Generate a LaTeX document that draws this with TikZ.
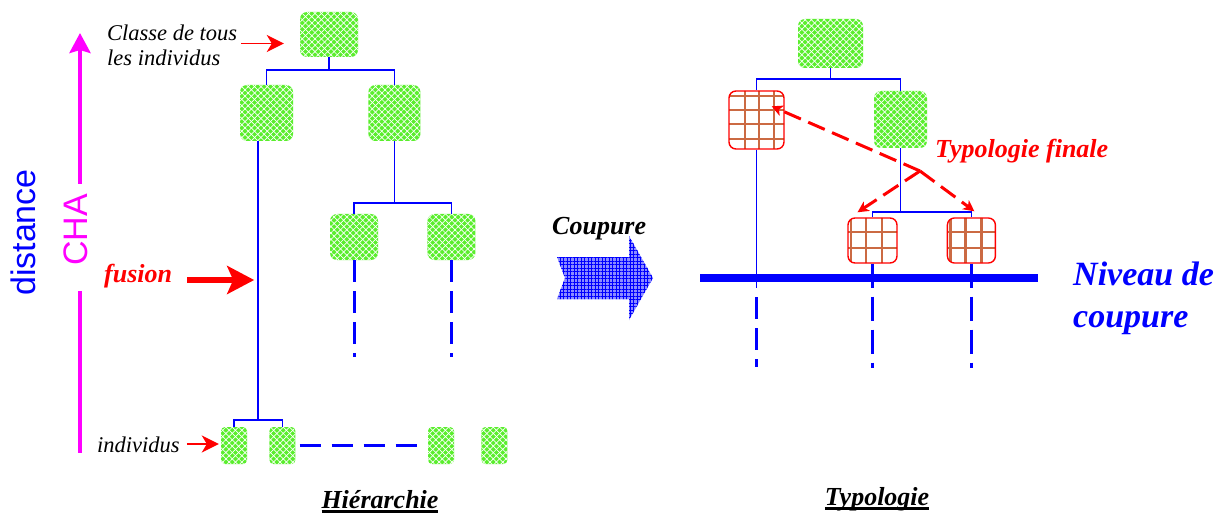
\documentclass[tikz,border=0pt]{standalone}
\usepackage{fontspec}
\setmainfont{Liberation Serif}
\setsansfont{Liberation Sans}
\usepackage{tikz}
\usetikzlibrary{arrows.meta, positioning, calc, patterns.meta}
\definecolor{grn}{RGB}{90,238,45}
\definecolor{gridred}{RGB}{195,80,35}
\definecolor{magaxis}{RGB}{255,0,255}
\newsavebox{\ulbox}
\newcommand{\ulword}[1]{\sbox{\ulbox}{#1}\rlap{\rule[-4.5pt]{\wd\ulbox}{2.5pt}}\usebox{\ulbox}}

\begin{document}
\begin{tikzpicture}[
  x=1pt, y=-1pt,
  box/.style      = {rectangle, inner sep=0pt, rounded corners=7pt},
  greenbox/.style = {box, fill=grn,
                     postaction={pattern={Lines[angle=45,distance=4.5pt,line width=0.7pt]}, pattern color=white},
                     postaction={pattern={Lines[angle=-45,distance=4.5pt,line width=0.7pt]}, pattern color=white}},
  leafbox/.style  = {greenbox, rounded corners=4pt, minimum width=26pt, minimum height=37pt},
  gridbox/.style 2 args = {box, draw=red, line width=1.4pt, fill=white,
                     path picture={\draw[gridred, line width=2.6pt, opacity=.85]
                       foreach \gx in {#1} {($(path picture bounding box.north west)+(\gx,-5)$) -- ++(0,90)}
                       foreach \gy in {#2} {($(path picture bounding box.north west)+(-5,\gy)$) -- ++(90,0)};}},
  tree/.style     = {blue, line width=1.5pt},
  cut/.style      = {blue, line width=3pt, dash pattern=on 22pt off 9pt},
  axis/.style     = {magaxis, line width=4pt},
  ptr/.style      = {red, line width=1.8pt, -{Stealth[length=17pt,width=17pt,inset=5pt]}},
  bigptr/.style   = {red, line width=6pt, -{Stealth[length=27pt,width=28pt,inset=6pt]}},
  typo/.style     = {red, line width=3pt, dash pattern=on 18pt off 8pt,
                     -{Stealth[length=11pt,width=11pt,inset=3pt]}},
  note/.style     = {inner sep=0pt, font=\fontsize{22.5}{25}\selectfont\itshape},
  title/.style    = {inner sep=0pt, font=\fontsize{26}{30}\selectfont\bfseries\itshape},
  axlabel/.style  = {inner sep=0pt, rotate=90, font=\sffamily\fontsize{34}{40}\selectfont},
]
\useasboundingbox (0,0) rectangle (1226,513);

%% --- Hierarchie: boxes ---
\node[greenbox, minimum width=58pt, minimum height=45pt] (rootL) at (329,34.5) {};
\node[greenbox, minimum width=53pt, minimum height=56pt] (L1) at (266.5,113) {};
\node[greenbox, minimum width=52pt, minimum height=56pt, right=75pt of L1] (R1) {};
\node[greenbox, minimum width=48pt, minimum height=46pt] (M1) at (354,237) {};
\node[greenbox, minimum width=48pt, minimum height=46pt, right=49pt of M1] (M2) {};
\node[leafbox] (B1) at (234,445.5) {};
\node[leafbox, right=22pt of B1] (B2) {};
\node[leafbox] (B3) at (441,445.5) {};
\node[leafbox, right=27pt of B3] (B4) {};

%% --- Hierarchie: links ---
\draw[tree] (rootL.south) -- ++(0,13) coordinate (jL);
\draw[tree] (L1.north) |- (jL) -| (R1.north);
\draw[tree] (R1.south) -- ++(0,62) coordinate (jR);
\draw[tree] (M1.north) |- (jR) -| (M2.north);
\coordinate (jB) at ($(B1.north)!.5!(B2.north)+(0,-7)$);
\draw[tree] (B1.north) |- (jB) -| (B2.north);
\draw[tree] (jB) -- (jB |- L1.south);
\draw[cut] (M1.south) -- ++(0,97);
\draw[cut] (M2.south) -- ++(0,97);
\draw[cut, dash pattern=on 21pt off 11pt, shorten <=4pt, shorten >=11pt] (B2.east) -- (B3.west);

%% --- Labels left ---
\node[note, anchor=west, align=left] (classe) at (107,45.5) {Classe de tous\\les individus};
\node[note, anchor=base west] (indiv) at (97,452) {individus};
\node[title, text=red, anchor=base west] (fusion) at (104,282) {fusion};
\node[axlabel, text=blue] (dist) at (23.5,232.5) {distance};
\node[axlabel, text=magaxis] (cha) at (76,230) {CHA};
\node[title, anchor=base] (hier) at (380,508) {\ulword{Hiérarchie}};

\draw[ptr] ([xshift=4pt,yshift=2pt]classe.east) -- ([xshift=-16pt,yshift=2pt]classe.east -| rootL.west);
\draw[ptr] ([xshift=7pt,yshift=8pt]indiv.base east) -- ([xshift=-2pt,yshift=8pt]indiv.base east -| B1.west);
\draw[bigptr] ([xshift=15pt,yshift=2pt]fusion.base east) -- ([xshift=-4pt,yshift=2pt]fusion.base east -| jB);

%% --- Axis ---
\coordinate (axtop) at (80,33);
\coordinate (axbot) at (80,453);
\draw[axis, -{Stealth[length=20pt,width=21pt,inset=3pt]}] ([yshift=10pt]axtop |- cha.east) -- (axtop);
\draw[axis] ([yshift=-25pt]axbot |- cha.west) -- (axbot);

%% --- Coupure ---
\node[title, anchor=base west] (coup) at (552,235) {Coupure};
\path[fill=blue!45,
      postaction={pattern={Lines[angle=0,distance=3.5pt,line width=0.7pt]}, pattern color=blue},
      postaction={pattern={Lines[angle=90,distance=3.5pt,line width=0.7pt]}, pattern color=blue}]
  (557,257) -- (629,257) -- (629,236) -- (653,278) -- (629,320) -- (629,299) -- (557,299) -- (565,278) -- cycle;

%% --- Typologie: boxes ---
\node[greenbox, minimum width=65pt, minimum height=49pt] (rootR) at (830.5,43.5) {};
\node[gridbox={16,30,45}{5,19,33,48}, minimum width=55pt, minimum height=58pt] (RL1) at (756.5,120) {};
\node[greenbox, minimum width=53pt, minimum height=57pt] (RR1) at (900.5,119.5) {};
\node[gridbox={3,18,34}{14,30}, minimum width=49pt, minimum height=45pt] (RL2) at (872.5,240.5) {};
\node[gridbox={3,18,34}{14,30}, minimum width=48pt, minimum height=45pt, right=49pt of RL2] (RR2) {};

%% --- Typologie: links ---
\draw[tree] (rootR.south) -- ++(0,11) coordinate (jT);
\draw[tree] (RL1.north) |- (jT) -| (RR1.north);
\draw[tree] (RR1.south) -- ++(0,64) coordinate (jU);
\draw[tree] (RL2.north) |- (jU) -| (RR2.north);
\coordinate (cutW) at (700,278);
\coordinate (cutE) at (1038,278);
\draw[tree] (RL1.south) -- ([yshift=-10pt]RL1.south |- cutW);
\draw[cut] ([yshift=-19pt]RL1.south |- cutW) -- ++(0,70);
\draw[cut, dash pattern=on 24pt off 9pt] (RL2.south) -- ++(0,104);
\draw[cut, dash pattern=on 24pt off 9pt] (RR2.south) -- ++(0,104);
\draw[blue, line width=8pt] (cutW) -- (cutE);

%% --- Typologie finale ---
\coordinate (apex) at (920,171);
\draw[typo] (apex) -- ($(RL1.north east)+(-13,16)$);
\draw[typo] (apex) -- ($(RL2.north)+(-15,-5)$);
\draw[typo] (apex) -- ($(RR2.north)+(3,-6)$);

%% --- Labels right ---
\node[title, text=red, anchor=base west] (typfin) at (935,158) {Typologie finale};
\node[title, text=blue, anchor=north west, align=left,
      font=\fontsize{34}{42}\selectfont\bfseries\itshape] (niveau) at (1073,262) {Niveau de\\coupure};
\node[title, anchor=base] (typo) at (877,505) {\ulword{Typologie}};

\end{tikzpicture}
\end{document}
